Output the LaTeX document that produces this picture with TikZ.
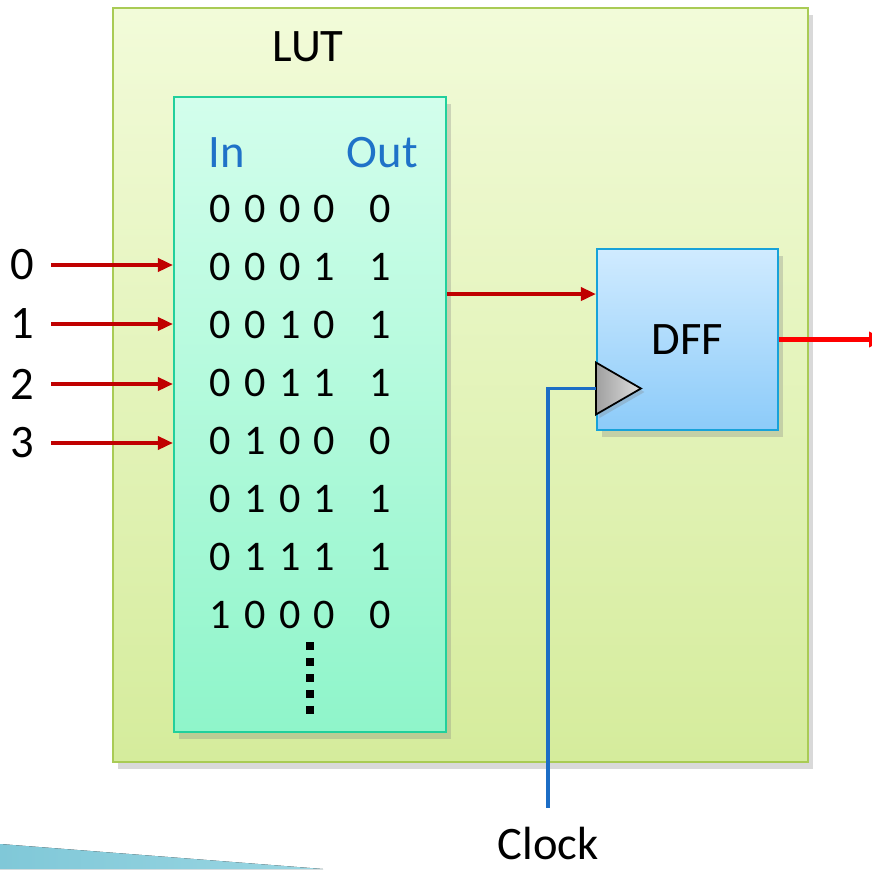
\documentclass[tikz,border=0pt]{standalone}
\usepackage{fontspec}
\setmainfont{Carlito}
\usetikzlibrary{arrows.meta,shadows}

\definecolor{frametop}{HTML}{F2FBD9}
\definecolor{framebot}{HTML}{D5EC9C}
\definecolor{frameline}{HTML}{A9CB55}
\definecolor{luttop}{HTML}{D3FEEC}
\definecolor{lutbot}{HTML}{8FF5CA}
\definecolor{lutline}{HTML}{22D09C}
\definecolor{dfftop}{HTML}{D0EBFF}
\definecolor{dffbot}{HTML}{8CCBF9}
\definecolor{dffline}{HTML}{17A2D9}
\definecolor{sigred}{HTML}{C00000}
\definecolor{headblue}{HTML}{1F72C8}
\definecolor{clkblue}{HTML}{1C6DC5}
\definecolor{cornerA}{HTML}{80C8D8}
\definecolor{cornerB}{HTML}{9AD6E2}

\newcommand\bigtxt{\fontsize{26.5}{30}\selectfont}
\newcommand\rowtxt{\fontsize{24}{28}\selectfont}
% one line of the truth table: four inputs, then the output
\newcommand\lutrow[5]{#1\hspace{0.27cm}#2\hspace{0.27cm}#3\hspace{0.27cm}#4\hspace{0.68cm}#5}

\tikzset{
  txt/.style={inner sep=0pt, font=\bigtxt},
  digits/.style={inner sep=0pt, font=\rowtxt, anchor=west},
  shade box/.style={draw, line width=1.2pt, drop shadow={opacity=0.3, shadow xshift=3pt, shadow yshift=-4pt}},
  sig/.style={draw=sigred, line width=2pt, -{Triangle[length=0.3cm,width=0.26cm]}},
}

\begin{document}
\begin{tikzpicture}[x=0.02cm, y=-0.02cm]
      \useasboundingbox (0,0) rectangle (872,869);
      \fill[left color=cornerA, right color=cornerB] (0,844) -- (323,869) -- (0,869) -- cycle;

      \node[shade box, draw=frameline, top color=frametop, bottom color=framebot,
        minimum width=13.9cm, minimum height=15.08cm] (frame) at (460.5,385) {};
      \node[shade box, draw=lutline, top color=luttop, bottom color=lutbot,
        minimum width=5.44cm, minimum height=12.7cm] (lut) at (310,414.5) {};
      \node[shade box, draw=dffline, top color=dfftop, bottom color=dffbot,
        minimum width=3.62cm, minimum height=3.62cm, font=\bigtxt] (dff) at (687.5,339.5) {DFF};

      \node[txt] (title) at (308,47) {LUT};
      \node[txt, text=headblue, anchor=west] (inhead) at (208,153) {In};
      \node[txt, text=headblue, anchor=east] (outhead) at (418,153) {Out};

      \node[digits] (r0) at (209,208.5) {\lutrow00000};
      \node[digits] (r1) at (209,266.6) {\lutrow00011};
      \node[digits] (r2) at (209,324.7) {\lutrow00101};
      \node[digits] (r3) at (209,382.8) {\lutrow00111};
      \node[digits] (r4) at (209,440.9) {\lutrow01000};
      \node[digits] (r5) at (209,499.0) {\lutrow01011};
      \node[digits] (r6) at (209,557.1) {\lutrow01111};
      \node[digits] (r7) at (209,615.2) {\lutrow10000};
      \draw[line width=0.16cm, dash pattern=on 0.16cm off 0.16cm] (310,642) -- (310,714);

      \node[txt] (in0) at (22,265) {0};
      \node[txt] (in1) at (22,324) {1};
      \node[txt] (in2) at (22,384) {2};
      \node[txt] (in3) at (22,443) {3};
      \node[txt] (clock) at (548,843) {Clock};

      % inputs into the table
      \draw[sig, shorten <=0.34cm] (in0.east) -- (in0.east -| lut.west);
      \draw[sig, shorten <=0.34cm] (in1.east) -- (in1.east -| lut.west);
      \draw[sig, shorten <=0.34cm] (in2.east) -- (in2.east -| lut.west);
      \draw[sig, shorten <=0.34cm] (in3.east) -- (in3.east -| lut.west);

      % table output into the flip-flop, and its output
      \draw[sig] ([yshift=2.41cm]lut.east) -- ([yshift=2.41cm]lut.east -| dff.west);
      \draw[draw=red, line width=2.4pt, -{Triangle[length=0.3cm,width=0.3cm]}] (dff.east) -- ++(105,0);

      % clock input
      \coordinate (clk) at ([yshift=-0.98cm]dff.west);
      \shadedraw[left color=gray!75, right color=gray!25, line width=1pt, line join=miter,
        drop shadow={opacity=0.3, shadow xshift=2pt, shadow yshift=-2pt}]
        ([yshift=0.52cm]clk) -- ([xshift=0.9cm]clk) -- ([yshift=-0.52cm]clk) -- cycle;
      \draw[clkblue, line width=2pt] (clk) -| ([yshift=0.36cm]clock.north);
    \end{tikzpicture}
\end{document}
